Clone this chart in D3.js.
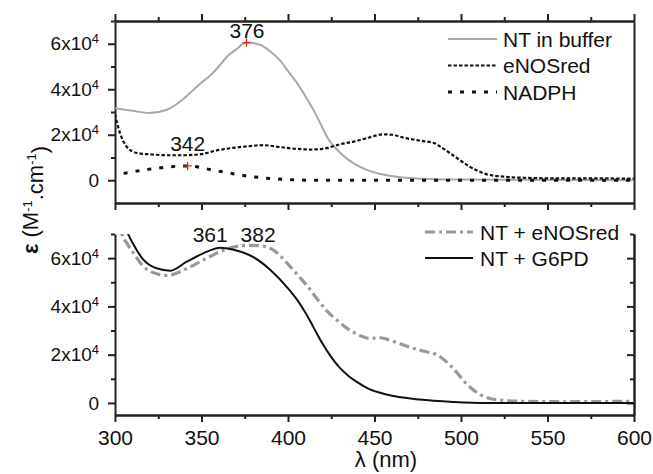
<!DOCTYPE html>
<html>
<head>
<meta charset="utf-8">
<script src="https://cdn.jsdelivr.net/npm/d3@7/dist/d3.min.js"></script>
<style>
  body { margin: 0; background: #fff; }
  svg text { font-family: "Liberation Sans", Arial, sans-serif; fill: #111; }
  .axis path, .axis line { stroke: #222; stroke-width: 2; }
</style>
</head>
<body>
<div id="chart"></div>
<script>
// wavelength (nm), epsilon (M-1 cm-1)
var xMajorTicks = [300, 350, 400, 450, 500, 550, 600];
var xMinorTicks = [325, 375, 425, 475, 525, 575];
var yMajorTicks = [0, 20000, 40000, 60000];
var yMinorTicks = [10000, 30000, 50000, 70000];

// top panel
var ntBuffer = [
  [300, 31600], [310, 30500], [320, 29600], [330, 31000], [340, 36000], [345, 39500],
  [350, 43000], [355, 46000], [360, 50000], [365, 54500], [370, 57500], [376, 60500],
  [380, 60300], [385, 59200], [390, 56500], [395, 53000], [400, 48000], [405, 43000],
  [410, 37000], [415, 30500], [419, 24500], [423, 18500], [427, 14500], [432, 10800],
  [438, 7400], [447, 4100], [457, 2200], [470, 1000], [495, 300], [600, 0]
];
var eNOSred = [
  [300, 29000], [302, 23000], [304, 18500], [307, 14500], [310, 12700], [315, 11700],
  [320, 11400], [330, 11000], [340, 11000], [350, 11500], [358, 13000], [368, 14200],
  [378, 15000], [386, 15400], [395, 14600], [405, 13800], [413, 13500], [420, 13800],
  [430, 15800], [438, 17000], [447, 18800], [455, 20200], [460, 20000], [468, 18500],
  [478, 17200], [484, 16500], [488, 14800], [495, 11200], [505, 6000], [515, 2600],
  [526, 1500], [540, 1000], [560, 800], [580, 800], [600, 700]
];
var nadph = [
  [305, 3000], [322, 5100], [342, 6300], [357, 4400], [376, 1900], [397, 400],
  [418, 0], [600, 0]
];

// bottom panel
var ntEnosred = [
  [302, 76000], [304, 70000], [307, 66000], [311, 61800], [316, 56900], [324, 53500],
  [330, 52800], [341, 55500], [353, 60000], [364, 63600], [376, 65300], [382, 65200],
  [388, 64600], [394, 62000], [399, 58300], [405, 53500], [411, 48600], [418, 42000],
  [424, 37000], [428, 34500], [433, 31500], [438, 29200], [443, 27500], [447, 26700],
  [453, 27000], [458, 26200], [463, 25000], [470, 23200], [476, 21900], [481, 21000],
  [486, 20000], [490, 18000], [496, 13900], [503, 8000], [511, 3500], [520, 1400],
  [534, 700], [560, 500], [600, 700]
];
var ntG6pd = [
  [303, 80000], [307, 71000], [311, 65200], [316, 59700], [324, 55800], [332, 54800],
  [341, 58300], [351, 62000], [361, 64300], [368, 63600], [380, 60400], [390, 55000],
  [400, 47500], [405, 43000], [410, 37500], [415, 31000], [420, 24500], [425, 19000],
  [430, 14500], [435, 11200], [440, 8600], [447, 5700], [457, 3500], [476, 1400],
  [496, 400], [515, 0], [600, 0]
];

var topLegend = ["NT in buffer", "eNOSred", "NADPH"];
var bottomLegend = ["NT + eNOSred", "NT + G6PD"];
var topPeaks = [[376, 60500], [342, 6300]];
var topPeakLabels = [["376", 376.3, 62500], ["342", 342, 13000]];
var bottomPeakLabels = [["361", 355, 66800], ["382", 382.7, 66800]];

var width = 653;
var height = 474;

var svg = d3.select("#chart")
  .append("svg")
  .attr("width", width)
  .attr("height", height);

var xScale = d3.scaleLinear().domain([300, 600]).range([115, 634]);
var yTop = d3.scaleLinear().domain([-10000, 70000]).range([203, 21]);
var yBottom = d3.scaleLinear().domain([-5000, 70000]).range([415, 234]);

var styles = {
  buffer: { stroke: "#a8a8a8", width: 2, dash: null },
  enos: { stroke: "#111", width: 2.2, dash: "3.5,2" },
  nadph: { stroke: "#111", width: 3, dash: "4,8" },
  ntEnos: { stroke: "#999", width: 3.2, dash: "10,4,3,4" },
  g6pd: { stroke: "#111", width: 2, dash: null }
};

// clip regions
var defs = svg.append("defs");
defs.append("clipPath").attr("id", "clipTop")
  .append("rect").attr("x", 115).attr("y", 21).attr("width", 519).attr("height", 182);
defs.append("clipPath").attr("id", "clipBottom")
  .append("rect").attr("x", 115).attr("y", 234).attr("width", 519).attr("height", 181);

function expLabels(g) {
  g.selectAll(".tick text").each(function(d) {
    var t = d3.select(this);
    t.text(null);
    if (d === 0) { t.text("0"); return; }
    t.append("tspan").text((d / 10000) + "x10");
    t.append("tspan").attr("dy", "-0.55em").attr("font-size", "13px").text("4");
  });
}

function drawYAxis(y) {
  var g = svg.append("g").attr("class", "axis")
    .attr("transform", "translate(115,0)");
  g.call(d3.axisLeft(y).tickValues(yMajorTicks).tickSize(7).tickSizeOuter(0).tickPadding(9))
    .selectAll(".tick text").attr("font-size", "19px");
  expLabels(g);
  svg.append("g").attr("class", "axis")
    .attr("transform", "translate(115,0)")
    .call(d3.axisLeft(y).tickValues(yMinorTicks).tickSize(4).tickSizeOuter(0).tickFormat(""))
    .select(".domain").remove();
}

// ---- top panel axes
drawYAxis(yTop);

svg.append("g").attr("class", "axis")
  .attr("transform", "translate(0,21)")
  .call(d3.axisTop(xScale).tickValues(xMajorTicks).tickSize(7).tickSizeOuter(0).tickFormat(""));
svg.append("g").attr("class", "axis")
  .attr("transform", "translate(0,21)")
  .call(d3.axisTop(xScale).tickValues(xMinorTicks).tickSize(4).tickSizeOuter(0).tickFormat(""));
svg.append("g").attr("class", "axis")
  .attr("transform", "translate(0,203)")
  .call(d3.axisBottom(xScale).tickValues(xMajorTicks).tickSize(7).tickSizeOuter(0).tickFormat(""));
svg.append("g").attr("class", "axis")
  .attr("transform", "translate(0,203)")
  .call(d3.axisBottom(xScale).tickValues(xMinorTicks).tickSize(4).tickSizeOuter(0).tickFormat(""));
svg.append("g").attr("class", "axis")
  .attr("transform", "translate(634,0)")
  .call(d3.axisRight(yTop).tickValues([]).tickSizeOuter(0));

// ---- bottom panel axes
drawYAxis(yBottom);

svg.append("g").attr("class", "axis")
  .attr("transform", "translate(634,0)")
  .call(d3.axisLeft(yBottom).tickValues(yMajorTicks).tickSize(7).tickSizeOuter(0).tickFormat(""));
svg.append("g").attr("class", "axis")
  .attr("transform", "translate(634,0)")
  .call(d3.axisLeft(yBottom).tickValues(yMinorTicks).tickSize(4).tickSizeOuter(0).tickFormat(""));

svg.append("g").attr("class", "axis")
  .attr("transform", "translate(0,415)")
  .call(d3.axisBottom(xScale).tickValues(xMajorTicks).tickSize(7).tickSizeOuter(0).tickPadding(8))
  .selectAll(".tick text").attr("font-size", "21px");
svg.append("g").attr("class", "axis")
  .attr("transform", "translate(0,415)")
  .call(d3.axisBottom(xScale).tickValues(xMinorTicks).tickSize(4).tickSizeOuter(0).tickFormat(""));

// ---- curves
function drawLine(data, y, style, clip) {
  var line = d3.line()
    .x(d => xScale(d[0]))
    .y(d => y(d[1]))
    .curve(d3.curveMonotoneX);
  svg.append("path")
    .datum(data)
    .attr("clip-path", "url(#" + clip + ")")
    .attr("fill", "none")
    .attr("stroke", style.stroke)
    .attr("stroke-width", style.width)
    .attr("stroke-dasharray", style.dash)
    .attr("d", line);
}

drawLine(ntBuffer, yTop, styles.buffer, "clipTop");
drawLine(nadph, yTop, styles.nadph, "clipTop");
drawLine(eNOSred, yTop, styles.enos, "clipTop");
drawLine(ntEnosred, yBottom, styles.ntEnos, "clipBottom");
drawLine(ntG6pd, yBottom, styles.g6pd, "clipBottom");

// peak markers
svg.append("g")
  .selectAll("path")
  .data(topPeaks)
  .enter()
  .append("path")
  .attr("transform", d => `translate(${xScale(d[0])},${yTop(d[1])})`)
  .attr("d", "M-4,0H4M0,-4V4")
  .attr("stroke", "#e8201c")
  .attr("stroke-width", 1.3);

svg.append("g")
  .selectAll("text")
  .data(topPeakLabels)
  .enter()
  .append("text")
  .attr("x", d => xScale(d[1]))
  .attr("y", d => yTop(d[2]))
  .attr("text-anchor", "middle")
  .attr("font-size", "21px")
  .text(d => d[0]);

svg.append("g")
  .selectAll("text")
  .data(bottomPeakLabels)
  .enter()
  .append("text")
  .attr("x", d => xScale(d[1]))
  .attr("y", d => yBottom(d[2]))
  .attr("text-anchor", "middle")
  .attr("font-size", "21px")
  .text(d => d[0]);

// ---- legends
var topLegendStyles = [styles.buffer, styles.enos, styles.nadph];
var tl = svg.append("g").selectAll("g")
  .data(topLegend)
  .enter()
  .append("g")
  .attr("transform", (d, i) => `translate(448,${39 + i * 26.5})`);
tl.append("line")
  .attr("x1", 0).attr("x2", 49)
  .attr("stroke", (d, i) => topLegendStyles[i].stroke)
  .attr("stroke-width", (d, i) => topLegendStyles[i].width)
  .attr("stroke-dasharray", (d, i) => topLegendStyles[i].dash);
tl.append("text")
  .attr("x", 55).attr("dy", "0.36em")
  .attr("font-size", "21px")
  .text(d => d);

var bottomLegendStyles = [styles.ntEnos, styles.g6pd];
var bl = svg.append("g").selectAll("g")
  .data(bottomLegend)
  .enter()
  .append("g")
  .attr("transform", (d, i) => `translate(425,${232 + i * 26})`);
bl.append("line")
  .attr("x1", 0).attr("x2", 48)
  .attr("stroke", (d, i) => bottomLegendStyles[i].stroke)
  .attr("stroke-width", (d, i) => bottomLegendStyles[i].width)
  .attr("stroke-dasharray", (d, i) => bottomLegendStyles[i].dash);
bl.append("text")
  .attr("x", 55).attr("dy", "0.36em")
  .attr("font-size", "21px")
  .text(d => d);

// ---- axis titles
var yTitle = svg.append("text")
  .attr("transform", "translate(38,200) rotate(-90)")
  .attr("text-anchor", "middle")
  .attr("font-size", "22px");
yTitle.append("tspan").attr("font-weight", "bold").text("ε");
yTitle.append("tspan").text(" (M");
yTitle.append("tspan").attr("dy", "-0.5em").attr("font-size", "13px").text("-1");
yTitle.append("tspan").attr("dy", "0.5em").text(".cm");
yTitle.append("tspan").attr("dy", "-0.5em").attr("font-size", "13px").text("-1");
yTitle.append("tspan").attr("dy", "0.5em").text(")");

svg.append("text")
  .attr("x", 386)
  .attr("y", 467)
  .attr("text-anchor", "middle")
  .attr("font-size", "22px")
  .text("λ (nm)");
</script>
</body>
</html>
